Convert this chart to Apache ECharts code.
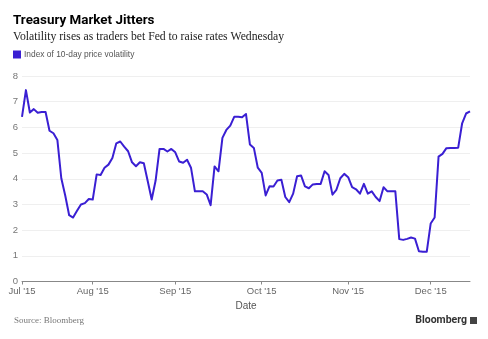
<!DOCTYPE html>
<html><head><meta charset="utf-8">
<script src="https://cdn.jsdelivr.net/npm/echarts@6/dist/echarts.min.js"></script>
<style>html,body{margin:0;padding:0;background:#fff}#c{width:488px;height:339px}</style>
</head><body><div id="c"></div>
<script>
// Weekday dates (2015), Jul 8 – Dec 15
const dates = [
 '07-08','07-09','07-10','07-13','07-14','07-15','07-16','07-17','07-20','07-21','07-22','07-23','07-24','07-27','07-28','07-29','07-30','07-31',
 '08-03','08-04','08-05','08-06','08-07','08-10','08-11','08-12','08-13','08-14','08-17','08-18','08-19','08-20','08-21','08-24','08-25','08-26','08-27','08-28','08-31',
 '09-01','09-02','09-03','09-04','09-07','09-08','09-09','09-10','09-11','09-14','09-15','09-16','09-17','09-18','09-21','09-22','09-23','09-24','09-25','09-28','09-29','09-30',
 '10-01','10-02','10-05','10-06','10-07','10-08','10-09','10-12','10-13','10-14','10-15','10-16','10-19','10-20','10-21','10-22','10-23','10-26','10-27','10-28','10-29','10-30',
 '11-02','11-03','11-04','11-05','11-06','11-09','11-10','11-11','11-12','11-13','11-16','11-17','11-18','11-19','11-20','11-23','11-24','11-25','11-26','11-27','11-30',
 '12-01','12-02','12-03','12-04','12-07','12-08','12-09','12-10','12-11','12-14','12-15'
];
// Index of 10-day price volatility
const volatility = [
 6.41,7.45,6.58,6.71,6.57,6.60,6.60,5.87,5.77,5.51,4.02,3.35,2.58,2.49,2.75,3.00,3.05,3.21,
 3.19,4.17,4.15,4.43,4.55,4.81,5.38,5.45,5.25,5.07,4.64,4.49,4.64,4.60,3.90,3.19,3.93,5.16,5.16,5.06,5.16,
 5.03,4.67,4.62,4.74,4.43,3.51,3.51,3.51,3.39,2.97,4.48,4.29,5.59,5.90,6.07,6.41,6.41,6.39,6.52,5.33,5.20,4.43,
 4.23,3.35,3.71,3.70,3.93,3.96,3.29,3.09,3.42,4.10,4.13,3.70,3.63,3.78,3.80,3.80,4.29,4.15,3.38,3.57,4.02,4.19,
 4.06,3.67,3.59,3.42,3.80,3.42,3.51,3.29,3.13,3.67,3.51,3.51,3.51,1.65,1.62,1.66,1.71,1.67,1.18,1.16,1.16,
 2.26,2.49,4.86,4.97,5.19,5.20,5.20,5.21,6.16,6.54,6.62
];
// Month labels shown on the x axis
const monthLabels = {'07-08':"Jul '15",'08-03':"Aug '15",'09-01':"Sep '15",'10-01':"Oct '15",'11-02':"Nov '15",'12-01':"Dec '15"};
const yTicks = [0,1,2,3,4,5,6,7,8];

const lineColor = '#3a1fd3';
const chart = echarts.init(document.getElementById('c'), null, {renderer:'canvas'});
const showMonth = (i, v) => monthLabels.hasOwnProperty(dates[i]);
chart.setOption({
  animation:false,
  title:[
    {text:'Treasury Market Jitters', left:13, top:14.5, padding:0,
     textStyle:{fontFamily:'Roboto', fontWeight:'bold', fontSize:13.4, color:'#000'}},
    {text:'Volatility rises as traders bet Fed to raise rates Wednesday', left:13, top:30.5, padding:0,
     textStyle:{fontFamily:'Liberation Serif', fontWeight:'normal', fontSize:11.7, color:'#222'}}
  ],
  legend:{left:13, top:50.5, padding:0, icon:'rect', itemWidth:8, itemHeight:8, itemGap:4,
    textStyle:{fontFamily:'Liberation Sans', fontSize:8.4, color:'#555', padding:[0,0,0,-2]},
    data:['Index of 10-day price volatility']},
  grid:{left:22, right:18, top:76, bottom:57.5, containLabel:false},
  xAxis:{type:'category', data:dates, boundaryGap:false,
    name:'Date', nameLocation:'middle', nameGap:17,
    nameTextStyle:{fontFamily:'Liberation Sans', fontSize:10, color:'#555'},
    axisLine:{lineStyle:{color:'#888', width:1}},
    axisTick:{show:true, interval:showMonth, length:3, lineStyle:{color:'#888'}},
    axisLabel:{interval:showMonth, formatter:(v)=>monthLabels[v]||'', margin:5,
      fontFamily:'Liberation Sans', fontSize:9.5, color:'#666'},
    splitLine:{show:false}},
  yAxis:{type:'value', min:yTicks[0], max:yTicks[yTicks.length-1], interval:1,
    axisLine:{show:false}, axisTick:{show:false},
    axisLabel:{margin:4, fontFamily:'Liberation Sans', fontSize:9.5, color:'#777'},
    splitLine:{lineStyle:{color:'#efefef', width:1}}},
  series:[{name:'Index of 10-day price volatility', type:'line', data:volatility,
    showSymbol:false, symbol:'none', itemStyle:{color:lineColor},
    lineStyle:{color:lineColor, width:2, join:'round'}}],
  graphic:[
    {type:'text', left:14, top:316, style:{text:'Source: Bloomberg', font:'9px "Liberation Serif"', fill:'#777'}},
    {type:'text', right:21, top:315, style:{text:'Bloomberg', font:'bold 10.5px "Roboto"', fill:'#333'}},
    {type:'rect', right:11, top:317, shape:{width:7, height:7}, style:{fill:'#444'}}
  ]
});
</script></body></html>
